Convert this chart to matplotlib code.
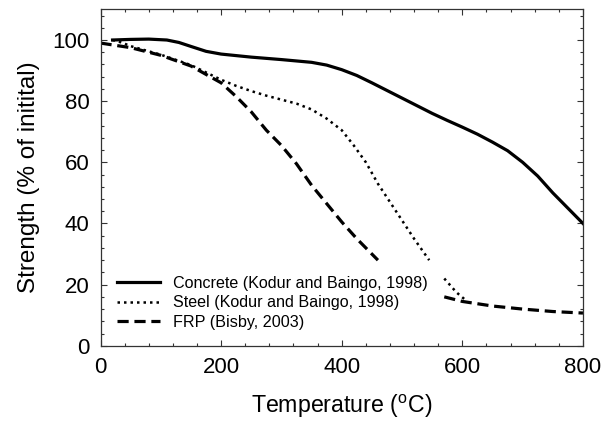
import numpy as np
import matplotlib
matplotlib.use("Agg")
import matplotlib.pyplot as plt
from matplotlib.ticker import MultipleLocator

plt.rcParams['font.family'] = ['Liberation Sans', 'DejaVu Sans']
plt.rcParams['mathtext.fontset'] = 'custom'
plt.rcParams['mathtext.rm'] = 'Liberation Sans'

# --- data ---
concrete_t = [20, 50, 80, 110, 130, 150, 175, 200, 250, 300, 350, 375, 400, 425,
              450, 475, 500, 525, 550, 575, 600, 625, 650, 675, 700, 725, 750, 775, 800]
concrete_s = [100, 100.2, 100.3, 100, 99.2, 97.9, 96.3, 95.4, 94.4, 93.6, 92.7, 91.8, 90.3, 88.4,
              86, 83.5, 81, 78.5, 76, 73.7, 71.5, 69.2, 66.6, 63.8, 60, 55.5, 50, 45, 40]

# gap where the legend sits
steel_t = [20, 35, 50, 80, 100, 150, 200, 225, 250, 275, 300, 325, 350, 375, 400,
           420, 440, 460, 480, 500, 520, 545, np.nan, 570, 590, 605]
steel_s = [100, 99.2, 98, 96.3, 95.2, 91.8, 87, 85, 83.3, 81.8, 80.5, 79.2, 77.3, 74.3, 70.5,
           65.5, 60, 53, 47, 41, 35, 28, np.nan, 22, 17.5, 15]

frp_t = [0, 50, 100, 150, 200, 225, 250, 275, 300, 325, 350, 375, 400, 425, 460,
         np.nan, 570, 600, 650, 700, 750, 800]
frp_s = [99, 97.5, 95, 91.5, 86, 81.5, 76.5, 70.5, 65.5, 59.5, 52.5, 46.5, 40.5, 35, 28,
         np.nan, 16, 14.5, 13, 12, 11.2, 10.7]

fig = plt.figure(figsize=(6.04, 4.29), dpi=100)
ax = fig.add_axes([0.1664, 0.194, 0.7988, 0.784])

ax.plot(concrete_t, concrete_s, color='k', lw=2.3, ls='-',
        label='Concrete (Kodur and Baingo, 1998)')
ax.plot(steel_t, steel_s, color='k', lw=1.8, ls=(0, (1, 1.6)),
        label='Steel (Kodur and Baingo, 1998)')
ax.plot(frp_t, frp_s, color='k', lw=2.3, ls=(0, (3.5, 1.8)),
        label='FRP (Bisby, 2003)')

ax.set_xlim(0, 800)
ax.set_ylim(0, 110)
ax.xaxis.set_major_locator(MultipleLocator(200))
ax.xaxis.set_minor_locator(MultipleLocator(40))
ax.yaxis.set_major_locator(MultipleLocator(20))
ax.yaxis.set_minor_locator(MultipleLocator(4))
ax.set_yticks([0, 20, 40, 60, 80, 100])
ax.tick_params(which='both', direction='in', top=True, right=True,
               labelsize=16, width=0.8, color='#333333')
ax.tick_params(which='major', length=4.5, pad=8)
ax.tick_params(which='minor', length=2.5)
for s in ax.spines.values():
    s.set_linewidth(0.9)
    s.set_color('#333333')

ax.set_xlabel('Temperature ($^\\mathrm{o}$C)', fontsize=16.7, labelpad=11)
ax.set_ylabel('Strength (% of initital)', fontsize=17.5, labelpad=9)

ax.legend(loc='lower left', bbox_to_anchor=(0.0, 0.0), frameon=False,
          fontsize=11.6, handlelength=2.7, handletextpad=0.8, labelspacing=0.28,
          borderaxespad=0.6)

fig.savefig('out.png', dpi=100)
